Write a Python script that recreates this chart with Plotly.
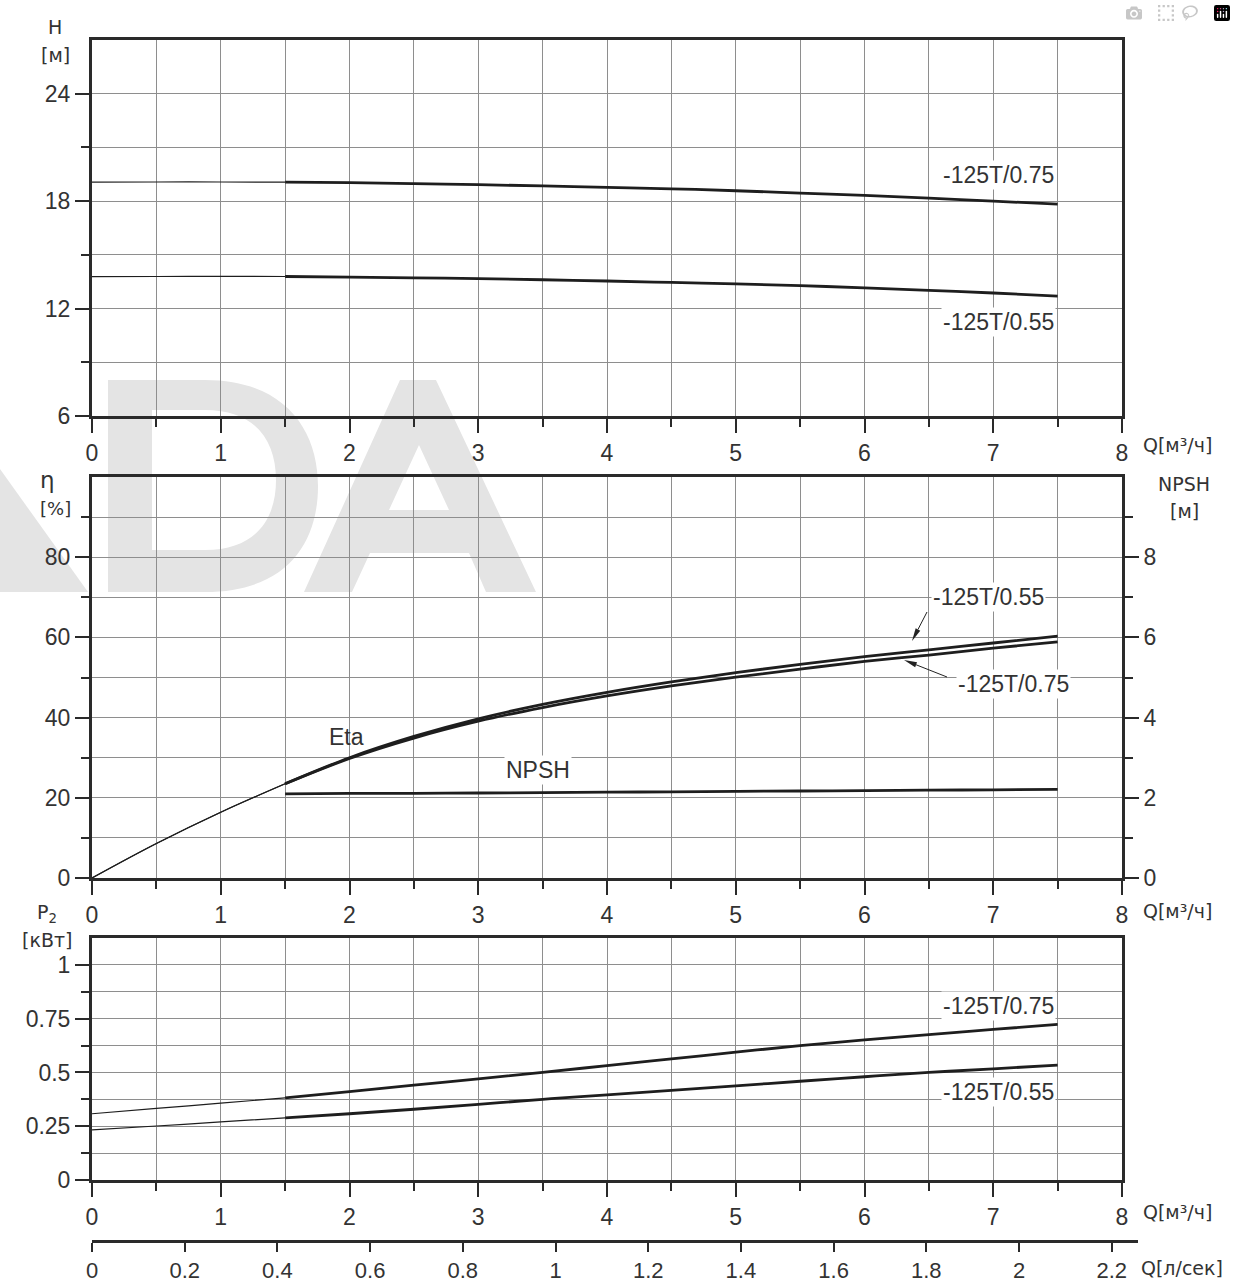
import math
import plotly.graph_objects as go

# ---------------- data ----------------
Q = [0, 0.5, 1, 1.5, 2, 2.5, 3, 3.5, 4, 4.5, 5, 5.5, 6, 6.5, 7, 7.5]
H_075 = [19.06, 19.07, 19.07, 19.06, 19.03, 18.98, 18.92, 18.85, 18.77, 18.69, 18.58, 18.45, 18.32, 18.17, 18.00, 17.83]
H_055 = [13.78, 13.79, 13.80, 13.79, 13.76, 13.72, 13.67, 13.61, 13.54, 13.46, 13.38, 13.28, 13.16, 13.02, 12.87, 12.70]
ETA_055 = [0, 8.6, 16.4, 23.5, 30.0, 35.3, 39.7, 43.3, 46.3, 48.9, 51.2, 53.3, 55.2, 56.9, 58.6, 60.3]
ETA_075 = [0, 8.6, 16.4, 23.5, 29.8, 34.9, 39.1, 42.5, 45.4, 47.9, 50.1, 52.1, 54.0, 55.6, 57.3, 58.9]
Q_NPSH = [1.5, 2, 2.5, 3, 3.5, 4, 4.5, 5, 5.5, 6, 6.5, 7, 7.5]
NPSH = [2.10, 2.11, 2.11, 2.12, 2.13, 2.14, 2.15, 2.16, 2.17, 2.18, 2.19, 2.20, 2.21]
P2_075 = [0.308, 0.333, 0.357, 0.382, 0.411, 0.441, 0.470, 0.500, 0.532, 0.563, 0.594, 0.625, 0.651, 0.676, 0.700, 0.723]
P2_055 = [0.233, 0.251, 0.270, 0.289, 0.308, 0.329, 0.352, 0.375, 0.396, 0.417, 0.438, 0.459, 0.480, 0.500, 0.517, 0.534]

Q_TICKS = [0, 1, 2, 3, 4, 5, 6, 7, 8]
H_TICKS = [6, 12, 18, 24]
ETA_TICKS = [0, 20, 40, 60, 80]
NPSH_TICKS = [0, 2, 4, 6, 8]
P2_TICKS = [0, 0.25, 0.5, 0.75, 1]
P2_TICKTEXT = ["0", "0.25", "0.5", "0.75", "1"]
QLS_TICKS = [0, 0.2, 0.4, 0.6, 0.8, 1, 1.2, 1.4, 1.6, 1.8, 2, 2.2]
SPLIT = 3  # index of Q = 1.5 where the curves become thick

# ---------------- layout geometry (pixels) ----------------
W, H = 1236, 1284
ML, MR, MT, MB = 92, 96, 40, 44
PW, PH = W - ML - MR, H - MT - MB


def px(x):
    return (x - ML) / PW


def py(y):
    return (H - MB - y) / PH


XDOM = [0, px(1122)]
TICKFONT = dict(family="Liberation Sans, Arial, sans-serif", size=23, color="#333333")
UNITFONT = dict(family="DejaVu Sans, Noto Sans, sans-serif", size=19, color="#333333")
AXC = "#2a2a2a"
GRIDC = "#8e8e8e"
CURVE = "#1e1e1e"

fig = go.Figure()


def add_curve(x, y, xa, ya, name):
    fig.add_trace(go.Scatter(x=x[:SPLIT + 1], y=y[:SPLIT + 1], xaxis=xa, yaxis=ya, mode="lines",
                             line=dict(color=CURVE, width=1.2, shape="spline"), hoverinfo="skip",
                             showlegend=False, name=name))
    fig.add_trace(go.Scatter(x=x[SPLIT:], y=y[SPLIT:], xaxis=xa, yaxis=ya, mode="lines",
                             line=dict(color=CURVE, width=2.8, shape="spline"), name=name,
                             showlegend=False))


add_curve(Q, H_075, "x", "y", "-125T/0.75")
add_curve(Q, H_055, "x", "y", "-125T/0.55")
add_curve(Q, ETA_055, "x2", "y2", "Eta -125T/0.55")
add_curve(Q, ETA_075, "x2", "y2", "Eta -125T/0.75")
fig.add_trace(go.Scatter(x=Q_NPSH, y=NPSH, xaxis="x2", yaxis="y3", mode="lines",
                         line=dict(color=CURVE, width=2.8, shape="spline"), name="NPSH", showlegend=False))
add_curve(Q, P2_075, "x3", "y4", "P2 -125T/0.75")
add_curve(Q, P2_055, "x3", "y4", "P2 -125T/0.55")
# carrier for the l/s axis
fig.add_trace(go.Scatter(x=QLS_TICKS[:1], y=[0], xaxis="x4", yaxis="y5", mode="markers",
                         marker=dict(opacity=0), hoverinfo="skip", showlegend=False))


def xaxis(anchor, domain=XDOM):
    return dict(domain=domain, range=[0, 8], anchor=anchor, tickmode="array", tickvals=Q_TICKS,
                ticks="outside", ticklen=14, tickwidth=2, tickcolor=AXC, tickfont=TICKFONT,
                showline=True, linewidth=3, linecolor=AXC, mirror=True,
                showgrid=True, gridcolor=GRIDC, gridwidth=1.2, zeroline=False,
                minor=dict(tickmode="array", tickvals=[0.5 + i for i in range(8)], ticks="outside",
                           ticklen=8, tickwidth=2, tickcolor=AXC, showgrid=True, gridcolor=GRIDC, gridwidth=1.2),
                fixedrange=True)


def yaxis(domain, rng, tv, minor_tv, anchor, ticktext=None):
    d = dict(domain=domain, range=rng, anchor=anchor, tickmode="array", tickvals=tv,
             ticks="outside", ticklen=14, tickwidth=2, tickcolor=AXC, tickfont=TICKFONT,
             showline=True, linewidth=3, linecolor=AXC, mirror=True,
             showgrid=True, gridcolor=GRIDC, gridwidth=1.2, zeroline=False,
             minor=dict(tickmode="array", tickvals=minor_tv, ticks="outside", ticklen=8, tickwidth=2,
                        tickcolor=AXC, showgrid=True, gridcolor=GRIDC, gridwidth=1.2),
             fixedrange=True)
    if ticktext:
        d["ticktext"] = ticktext
    return d


fig.update_layout(
    width=W, height=H, margin=dict(l=ML, r=MR, t=MT, b=MB, autoexpand=False),
    paper_bgcolor="white", plot_bgcolor="white", showlegend=False,
    xaxis=xaxis("y"),
    yaxis=yaxis([py(416), py(40)], [6, 27], H_TICKS, [9, 15, 21], "x"),
    xaxis2=xaxis("y2"),
    yaxis2=yaxis([py(878), py(477)], [0, 100], ETA_TICKS, [10, 30, 50, 70, 90], "x2"),
    yaxis3=dict(overlaying="y2", side="right", anchor="x2", range=[0, 10], tickmode="array",
                tickvals=NPSH_TICKS, ticks="outside", ticklen=14, tickwidth=2, tickcolor=AXC,
                tickfont=TICKFONT, showline=True, linewidth=3, linecolor=AXC, showgrid=False,
                zeroline=False, fixedrange=True,
                minor=dict(tickmode="array", tickvals=[1, 3, 5, 7, 9], ticks="outside", ticklen=8,
                           tickwidth=2, tickcolor=AXC, showgrid=False)),
    xaxis3=xaxis("y4"),
    yaxis4=yaxis([py(1180), py(938)], [0, 1.125], P2_TICKS,
                 [0.125, 0.375, 0.625, 0.875], "x3", ticktext=P2_TICKTEXT),
    xaxis4=dict(domain=[0, px(1138)], range=[0, 2.2 * (1138 - 92) / (1111.7 - 92)], anchor="y5",
                tickmode="array", tickvals=QLS_TICKS, ticks="outside", ticklen=9, tickwidth=2,
                tickcolor=AXC, tickfont=dict(TICKFONT, size=22), showline=True, linewidth=3,
                linecolor=AXC, showgrid=False, zeroline=False, fixedrange=True),
    yaxis5=dict(domain=[0, 0.001], anchor="x4", visible=False, range=[0, 1], fixedrange=True),
)

# ---------------- watermark (light grey letters behind the grid) ----------------
WM = "#e4e4e4"


def P(x, y):
    return f"{px(x):.5f},{py(y):.5f}"


def path(points_list):
    s = ""
    for pts in points_list:
        s += "M " + " L ".join(P(x, y) for x, y in pts) + " Z "
    return s


# left wedge
fig.add_shape(type="path", xref="paper", yref="paper", layer="below", line_width=0, fillcolor=WM,
              path=path([[(-10, 455), (88, 592), (-10, 592)]]))
# D
d_outer = (f"M {P(108,380)} L {P(205,380)} C {P(285,380)} {P(318,430)} {P(318,486)} "
           f"C {P(318,545)} {P(285,592)} {P(205,592)} L {P(108,592)} Z ")
d_inner = (f"M {P(152,410)} L {P(152,550)} L {P(205,550)} C {P(255,550)} {P(276,520)} {P(276,480)} "
           f"C {P(276,440)} {P(255,410)} {P(205,410)} Z")
fig.add_shape(type="path", xref="paper", yref="paper", layer="below", line_width=0, fillcolor=WM,
              path=d_outer + d_inner)
# A
fig.add_shape(type="path", xref="paper", yref="paper", layer="below", line_width=0, fillcolor=WM,
              path=path([[(304, 592), (400, 380), (436, 380), (536, 592), (486, 592), (469, 553),
                          (370, 553), (352, 592)],
                         [(389, 510), (419, 445), (449, 510)]]))

# arrows (line + filled head) in the efficiency panel
for (hx, hy, tx, ty) in [(912, 641, 927, 612), (904, 660, 947, 677)]:
    dx, dy = hx - tx, hy - ty
    L = math.hypot(dx, dy)
    ux, uy = dx / L, dy / L
    hl, hw = 13, 2.6
    bx, by = hx - ux * hl, hy - uy * hl
    fig.add_shape(type="line", xref="paper", yref="paper", x0=px(tx), y0=py(ty), x1=px(bx), y1=py(by),
                  line=dict(color="#222222", width=1))
    fig.add_shape(type="path", xref="paper", yref="paper", line_width=0, fillcolor="#222222",
                  path=path([[(hx, hy), (bx - uy * hw, by + ux * hw), (bx + uy * hw, by - ux * hw)]]))

# ---------------- annotations ----------------
ann = []


def text(x, y, t, font=TICKFONT, xanchor="center", bg=None):
    a = dict(x=px(x), y=py(y), xref="paper", yref="paper", text=t, showarrow=False,
             font=font, xanchor=xanchor, yanchor="middle")
    if bg:
        a.update(bgcolor=bg, borderpad=1)
    ann.append(a)


text(55, 27, "H", UNITFONT)
text(55, 55, "[м]", UNITFONT)
text(47, 480, "η", dict(UNITFONT, size=23))
text(55, 508, "[%]", dict(UNITFONT, size=18))
text(1184, 484, "NPSH", UNITFONT)
text(1184, 511, "[м]", UNITFONT)
text(47, 913, "P<sub>2</sub>", UNITFONT)
text(47, 940, "[кВт]", UNITFONT)
for yy in (445, 911, 1212):
    text(1141, yy, "Q[м³/ч]", UNITFONT, xanchor="left")
text(1139, 1268, "Q[л/сек]", UNITFONT, xanchor="left")

text(998, 175, "-125T/0.75", bg="white")
text(998, 322, "-125T/0.55", bg="white")
text(988, 597, "-125T/0.55", bg="white")
text(1013, 684, "-125T/0.75", bg="white")
text(346, 737, "Eta")
text(538, 770, "NPSH", bg="white")
text(998, 1006, "-125T/0.75", bg="white")
text(998, 1092, "-125T/0.55", bg="white")

fig.update_layout(annotations=ann)

fig.write_html("out.html", post_script="document.body.style.margin='0';document.body.style.overflow='hidden';")
